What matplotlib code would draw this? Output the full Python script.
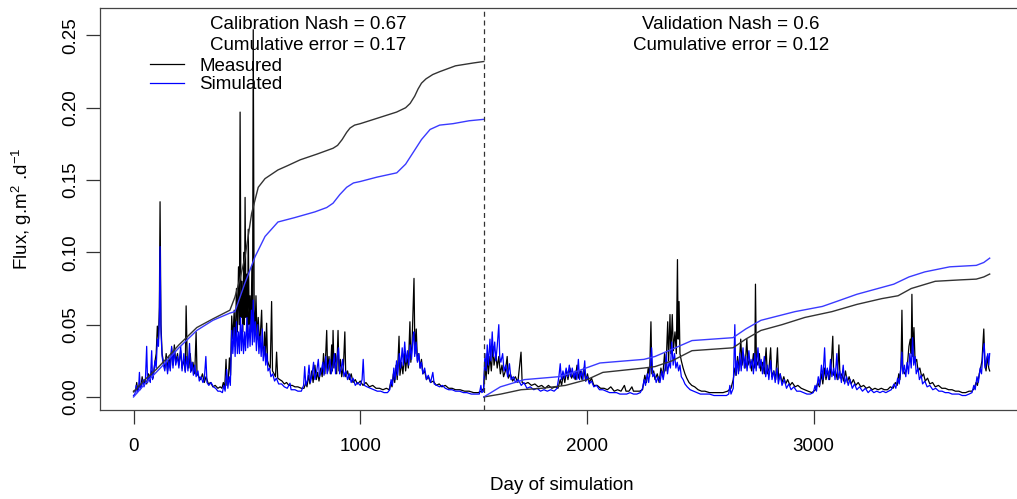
import matplotlib
matplotlib.use('Agg')
import matplotlib.pyplot as plt

# font close to the R default (Helvetica / Arial)
plt.rcParams['font.family'] = ['Liberation Sans', 'DejaVu Sans']
plt.rcParams['mathtext.default'] = 'regular'

# split between calibration and validation periods (day)
SPLIT_DAY = 1545

# daily measured flux, calibration + validation (day, value)
meas_days = [
    0, 10, 14, 18, 26, 32, 38, 44, 52, 58, 66, 72, 80, 86, 94, 100, 105, 110, 114, 117,
    121, 126, 132, 138, 144, 150, 156, 162, 168, 174, 180, 186, 194, 200, 208, 214, 222, 228, 232, 237,
    244, 250, 256, 262, 270, 276, 280, 288, 296, 304, 312, 320, 330, 340, 350, 360, 372, 382, 390, 396,
    402, 408, 412, 418, 423, 428, 433, 438, 444, 448, 454, 458, 463, 467, 470, 474, 478, 482, 486, 489,
    492, 496, 500, 503, 506, 510, 514, 518, 522, 525, 528, 532, 536, 540, 545, 550, 556, 561, 565, 569,
    574, 578, 582, 587, 591, 597, 603, 609, 613, 620, 626, 631, 636, 645, 655, 665, 675, 685, 700, 712,
    725, 740, 752, 760, 765, 772, 778, 786, 792, 800, 806, 812, 818, 826, 832, 838, 844, 852, 856, 862,
    868, 874, 877, 880, 884, 890, 896, 902, 906, 912, 918, 926, 932, 936, 944, 952, 960, 968, 978, 988,
    1000, 1012, 1025, 1040, 1055, 1070, 1085, 1100, 1115, 1128, 1134, 1140, 1146, 1152, 1158, 1163, 1171, 1175, 1182, 1188,
    1195, 1200, 1206, 1212, 1219, 1223, 1228, 1233, 1237, 1241, 1247, 1252, 1258, 1264, 1270, 1276, 1284, 1292, 1300, 1310,
    1322, 1335, 1348, 1360, 1375, 1390, 1405, 1420, 1440, 1460, 1480, 1500, 1520, 1535, 1544,
    1546, 1550, 1555, 1560, 1565, 1572, 1578, 1585, 1590, 1598, 1604, 1611, 1618, 1625, 1632, 1640, 1648, 1653, 1662, 1672,
    1684, 1695, 1709, 1714, 1725, 1740, 1755, 1770, 1785, 1800, 1815, 1830, 1845, 1860, 1872, 1882, 1888, 1896, 1902, 1910,
    1916, 1925, 1932, 1940, 1948, 1956, 1962, 1970, 1978, 1986, 1994, 2002, 2010, 2020, 2030, 2045, 2060, 2075, 2090, 2105,
    2120, 2135, 2150, 2165, 2172, 2185, 2198, 2205, 2218, 2232, 2245, 2255, 2262, 2270, 2276, 2282, 2286, 2294, 2300, 2310,
    2318, 2326, 2334, 2342, 2348, 2356, 2360, 2366, 2370, 2376, 2381, 2388, 2394, 2399, 2402, 2406, 2410, 2416, 2424, 2432,
    2440, 2450, 2462, 2475, 2490, 2505, 2520, 2540, 2560, 2580, 2600, 2620, 2635, 2645, 2652, 2658, 2664, 2670, 2678, 2684,
    2690, 2697, 2705, 2710, 2718, 2726, 2734, 2740, 2743, 2747, 2754, 2760, 2766, 2775, 2782, 2790, 2795, 2803, 2810, 2815,
    2824, 2832, 2840, 2845, 2852, 2860, 2868, 2876, 2885, 2895, 2905, 2918, 2930, 2945, 2960, 2975, 2992, 3008, 3018, 3025,
    3034, 3040, 3048, 3054, 3062, 3070, 3078, 3084, 3088, 3096, 3104, 3111, 3116, 3124, 3132, 3140, 3148, 3156, 3165, 3175,
    3185, 3196, 3208, 3220, 3232, 3245, 3258, 3270, 3284, 3298, 3312, 3325, 3338, 3350, 3360, 3368, 3375, 3380, 3385, 3389,
    3393, 3400, 3408, 3414, 3420, 3426, 3430, 3433, 3437, 3442, 3447, 3454, 3460, 3468, 3476, 3484, 3492, 3502, 3512, 3524,
    3536, 3550, 3565, 3580, 3595, 3610, 3625, 3640, 3655, 3670, 3685, 3698, 3708, 3716, 3722, 3730, 3736, 3742, 3750, 3755,
    3760, 3766, 3772, 3776,
]
meas_vals = [
    0.004, 0.005, 0.010, 0.005, 0.008, 0.006, 0.014, 0.008, 0.012, 0.009, 0.016, 0.011, 0.018, 0.013, 0.024, 0.030, 0.049, 0.040, 0.062, 0.135,
    0.050, 0.030, 0.024, 0.020, 0.030, 0.018, 0.028, 0.020, 0.034, 0.022, 0.036, 0.024, 0.030, 0.022, 0.032, 0.020, 0.026, 0.018, 0.063, 0.025,
    0.020, 0.030, 0.018, 0.024, 0.016, 0.045, 0.016, 0.014, 0.012, 0.016, 0.010, 0.014, 0.009, 0.010, 0.007, 0.008, 0.006, 0.007, 0.006, 0.010,
    0.006, 0.026, 0.008, 0.012, 0.027, 0.015, 0.056, 0.040, 0.060, 0.035, 0.075, 0.045, 0.090, 0.050, 0.197, 0.055, 0.080, 0.045, 0.100, 0.050,
    0.138, 0.055, 0.085, 0.045, 0.116, 0.050, 0.070, 0.045, 0.090, 0.050, 0.254, 0.060, 0.045, 0.070, 0.040, 0.055, 0.035, 0.048, 0.060, 0.035,
    0.030, 0.045, 0.028, 0.051, 0.025, 0.022, 0.020, 0.066, 0.018, 0.016, 0.014, 0.031, 0.013, 0.012, 0.011, 0.009, 0.010, 0.008, 0.008, 0.007,
    0.007, 0.006, 0.006, 0.010, 0.007, 0.015, 0.009, 0.018, 0.010, 0.022, 0.012, 0.017, 0.011, 0.020, 0.014, 0.030, 0.016, 0.046, 0.018, 0.028,
    0.016, 0.036, 0.018, 0.046, 0.020, 0.030, 0.016, 0.046, 0.018, 0.026, 0.014, 0.022, 0.045, 0.014, 0.018, 0.012, 0.016, 0.010, 0.012, 0.009,
    0.011, 0.008, 0.010, 0.007, 0.008, 0.006, 0.006, 0.005, 0.006, 0.005, 0.010, 0.007, 0.016, 0.010, 0.022, 0.012, 0.042, 0.015, 0.024, 0.016,
    0.030, 0.018, 0.028, 0.020, 0.052, 0.024, 0.035, 0.060, 0.082, 0.030, 0.047, 0.025, 0.030, 0.020, 0.026, 0.016, 0.018, 0.012, 0.014, 0.010,
    0.011, 0.008, 0.009, 0.007, 0.008, 0.006, 0.006, 0.005, 0.005, 0.004, 0.004, 0.003, 0.003, 0.004, 0.006,
    0.010, 0.022, 0.012, 0.030, 0.016, 0.028, 0.018, 0.035, 0.022, 0.030, 0.020, 0.028, 0.016, 0.022, 0.014, 0.018, 0.028, 0.013, 0.016, 0.011,
    0.014, 0.010, 0.031, 0.010, 0.009, 0.010, 0.008, 0.009, 0.007, 0.008, 0.006, 0.008, 0.006, 0.007, 0.006, 0.012, 0.008, 0.016, 0.010, 0.018,
    0.012, 0.020, 0.013, 0.016, 0.012, 0.022, 0.013, 0.018, 0.012, 0.020, 0.011, 0.016, 0.010, 0.013, 0.008, 0.008, 0.006, 0.006, 0.005, 0.007,
    0.004, 0.005, 0.004, 0.008, 0.004, 0.004, 0.007, 0.004, 0.004, 0.004, 0.005, 0.015, 0.010, 0.020, 0.014, 0.052, 0.016, 0.018, 0.012, 0.016,
    0.010, 0.020, 0.014, 0.030, 0.018, 0.052, 0.025, 0.057, 0.030, 0.057, 0.032, 0.045, 0.030, 0.095, 0.040, 0.066, 0.030, 0.025, 0.020, 0.016,
    0.013, 0.010, 0.008, 0.007, 0.005, 0.004, 0.004, 0.003, 0.003, 0.003, 0.003, 0.004, 0.006, 0.012, 0.020, 0.015, 0.028, 0.018, 0.040, 0.022,
    0.030, 0.020, 0.040, 0.022, 0.026, 0.018, 0.030, 0.020, 0.078, 0.025, 0.022, 0.030, 0.018, 0.024, 0.016, 0.034, 0.016, 0.020, 0.034, 0.014,
    0.018, 0.012, 0.034, 0.012, 0.016, 0.010, 0.014, 0.009, 0.012, 0.008, 0.010, 0.007, 0.008, 0.006, 0.005, 0.004, 0.003, 0.005, 0.010, 0.007,
    0.016, 0.009, 0.020, 0.012, 0.018, 0.012, 0.024, 0.042, 0.015, 0.018, 0.012, 0.036, 0.013, 0.016, 0.011, 0.018, 0.010, 0.014, 0.009, 0.012,
    0.008, 0.010, 0.007, 0.008, 0.006, 0.007, 0.005, 0.006, 0.005, 0.006, 0.005, 0.005, 0.007, 0.006, 0.010, 0.008, 0.016, 0.012, 0.022, 0.060,
    0.020, 0.016, 0.018, 0.024, 0.035, 0.040, 0.030, 0.071, 0.028, 0.048, 0.024, 0.026, 0.018, 0.020, 0.014, 0.016, 0.011, 0.013, 0.009, 0.010,
    0.007, 0.008, 0.006, 0.006, 0.005, 0.005, 0.004, 0.004, 0.003, 0.003, 0.004, 0.004, 0.006, 0.010, 0.008, 0.016, 0.020, 0.025, 0.047, 0.022,
    0.018, 0.028, 0.020, 0.018,
]

# daily simulated flux (day, value)
sim_days = [
    0, 6, 12, 16, 22, 26, 30, 36, 42, 46, 52, 58, 62, 68, 74, 80, 84, 90, 95, 100,
    105, 110, 114, 117, 121, 126, 132, 138, 144, 150, 156, 162, 168, 174, 180, 186, 194, 200, 208, 214,
    222, 228, 234, 240, 247, 252, 258, 264, 270, 276, 284, 290, 298, 306, 312, 319, 324, 332, 342, 352,
    362, 372, 382, 392, 398, 404, 411, 416, 422, 427, 433, 438, 444, 448, 454, 458, 463, 467, 472, 476,
    480, 485, 490, 494, 500, 504, 510, 514, 520, 524, 528, 532, 537, 542, 548, 553, 558, 563, 568, 572,
    578, 583, 588, 593, 600, 606, 614, 622, 630, 640, 653, 665, 678, 690, 695, 712, 725, 740, 750, 755,
    760, 768, 774, 780, 788, 794, 800, 808, 815, 820, 828, 835, 840, 848, 854, 860, 866, 872, 880, 886,
    891, 898, 904, 909, 916, 922, 928, 936, 944, 952, 960, 968, 978, 988, 1000, 1008, 1013, 1018, 1030, 1045,
    1060, 1075, 1090, 1105, 1120, 1130, 1136, 1142, 1148, 1154, 1160, 1165, 1172, 1178, 1185, 1190, 1196, 1202, 1208, 1214,
    1220, 1226, 1232, 1236, 1240, 1246, 1252, 1258, 1264, 1270, 1276, 1284, 1292, 1300, 1310, 1320, 1326, 1338, 1350, 1362,
    1375, 1390, 1405, 1420, 1438, 1455, 1470, 1490, 1510, 1525, 1532, 1536, 1544,
    1546, 1550, 1555, 1560, 1565, 1572, 1576, 1582, 1587, 1593, 1598, 1604, 1611, 1615, 1620, 1628, 1634, 1642, 1650, 1658,
    1665, 1675, 1685, 1697, 1710, 1722, 1735, 1750, 1765, 1780, 1795, 1810, 1825, 1840, 1855, 1868, 1876, 1882, 1887, 1894,
    1900, 1908, 1915, 1922, 1928, 1935, 1942, 1948, 1955, 1962, 1967, 1975, 1982, 1990, 1995, 2002, 2010, 2020, 2030, 2042,
    2055, 2070, 2085, 2100, 2115, 2130, 2145, 2160, 2175, 2190, 2205, 2220, 2235, 2245, 2252, 2258, 2266, 2272, 2279, 2285,
    2290, 2298, 2305, 2314, 2322, 2330, 2336, 2344, 2350, 2355, 2362, 2368, 2374, 2380, 2386, 2392, 2398, 2404, 2410, 2416,
    2424, 2432, 2442, 2455, 2470, 2485, 2500, 2520, 2540, 2560, 2580, 2600, 2615, 2625, 2630, 2635, 2645, 2652, 2656, 2662,
    2668, 2674, 2680, 2688, 2694, 2700, 2706, 2714, 2720, 2728, 2734, 2740, 2746, 2754, 2760, 2768, 2774, 2782, 2788, 2796,
    2802, 2810, 2816, 2824, 2830, 2838, 2844, 2852, 2860, 2870, 2880, 2890, 2900, 2912, 2925, 2940, 2955, 2970, 2985, 2998,
    3006, 3012, 3020, 3026, 3034, 3040, 3048, 3053, 3060, 3066, 3074, 3080, 3088, 3094, 3102, 3107, 3115, 3122, 3130, 3136,
    3145, 3152, 3160, 3170, 3180, 3190, 3202, 3215, 3228, 3240, 3252, 3265, 3278, 3292, 3305, 3318, 3330, 3342, 3354, 3362,
    3370, 3377, 3384, 3389, 3393, 3400, 3406, 3412, 3418, 3424, 3430, 3436, 3441, 3447, 3452, 3460, 3466, 3474, 3480, 3490,
    3500, 3512, 3525, 3538, 3552, 3566, 3580, 3595, 3610, 3625, 3640, 3655, 3670, 3685, 3698, 3706, 3712, 3720, 3726, 3734,
    3740, 3746, 3752, 3756, 3762, 3768, 3772, 3776,
]
sim_vals = [
    0.001, 0.002, 0.008, 0.003, 0.005, 0.017, 0.005, 0.008, 0.012, 0.007, 0.010, 0.035, 0.010, 0.014, 0.010, 0.032, 0.012, 0.018, 0.025, 0.020,
    0.040, 0.035, 0.055, 0.104, 0.045, 0.028, 0.022, 0.018, 0.027, 0.016, 0.025, 0.018, 0.035, 0.020, 0.033, 0.022, 0.028, 0.020, 0.035, 0.018,
    0.030, 0.017, 0.028, 0.018, 0.037, 0.017, 0.024, 0.015, 0.022, 0.014, 0.018, 0.011, 0.014, 0.010, 0.012, 0.028, 0.010, 0.008, 0.010, 0.007,
    0.006, 0.004, 0.004, 0.003, 0.008, 0.004, 0.019, 0.006, 0.014, 0.008, 0.046, 0.030, 0.048, 0.028, 0.052, 0.030, 0.045, 0.030, 0.055, 0.032,
    0.050, 0.030, 0.045, 0.032, 0.055, 0.034, 0.050, 0.035, 0.060, 0.036, 0.067, 0.038, 0.052, 0.032, 0.050, 0.030, 0.042, 0.028, 0.047, 0.025,
    0.035, 0.022, 0.030, 0.018, 0.020, 0.014, 0.016, 0.011, 0.013, 0.009, 0.009, 0.007, 0.006, 0.0095, 0.005, 0.005, 0.004, 0.004, 0.008, 0.021,
    0.008, 0.012, 0.022, 0.010, 0.016, 0.024, 0.012, 0.018, 0.026, 0.014, 0.018, 0.024, 0.015, 0.028, 0.016, 0.020, 0.026, 0.016, 0.022, 0.030,
    0.016, 0.028, 0.034, 0.016, 0.020, 0.026, 0.014, 0.018, 0.012, 0.016, 0.010, 0.013, 0.008, 0.010, 0.008, 0.012, 0.026, 0.008, 0.007, 0.006,
    0.005, 0.004, 0.004, 0.003, 0.003, 0.005, 0.012, 0.008, 0.020, 0.012, 0.025, 0.015, 0.030, 0.020, 0.034, 0.022, 0.038, 0.024, 0.032, 0.022,
    0.036, 0.026, 0.040, 0.045, 0.028, 0.038, 0.024, 0.030, 0.020, 0.024, 0.016, 0.020, 0.012, 0.015, 0.010, 0.017, 0.009, 0.008, 0.007, 0.008,
    0.006, 0.005, 0.005, 0.004, 0.004, 0.003, 0.003, 0.002, 0.002, 0.002, 0.008, 0.003, 0.004,
    0.015, 0.030, 0.018, 0.036, 0.022, 0.040, 0.025, 0.045, 0.028, 0.038, 0.025, 0.035, 0.050, 0.028, 0.024, 0.030, 0.018, 0.022, 0.014, 0.023,
    0.012, 0.014, 0.010, 0.012, 0.008, 0.010, 0.006, 0.007, 0.005, 0.006, 0.004, 0.005, 0.004, 0.005, 0.004, 0.006, 0.014, 0.023, 0.012, 0.018,
    0.013, 0.020, 0.014, 0.022, 0.014, 0.020, 0.013, 0.018, 0.012, 0.026, 0.012, 0.018, 0.012, 0.025, 0.011, 0.014, 0.009, 0.011, 0.007, 0.008,
    0.005, 0.005, 0.004, 0.003, 0.003, 0.003, 0.002, 0.002, 0.002, 0.003, 0.002, 0.002, 0.003, 0.006, 0.012, 0.008, 0.016, 0.010, 0.020, 0.034,
    0.014, 0.016, 0.010, 0.014, 0.010, 0.018, 0.012, 0.020, 0.030, 0.016, 0.024, 0.020, 0.038, 0.022, 0.030, 0.020, 0.024, 0.018, 0.022, 0.014,
    0.012, 0.009, 0.007, 0.005, 0.004, 0.003, 0.002, 0.002, 0.002, 0.001, 0.001, 0.001, 0.001, 0.002, 0.008, 0.002, 0.006, 0.050, 0.015, 0.025,
    0.016, 0.030, 0.018, 0.034, 0.020, 0.028, 0.018, 0.032, 0.020, 0.026, 0.016, 0.030, 0.018, 0.034, 0.020, 0.026, 0.016, 0.028, 0.014, 0.022,
    0.012, 0.025, 0.012, 0.018, 0.010, 0.020, 0.009, 0.016, 0.008, 0.012, 0.006, 0.009, 0.005, 0.007, 0.004, 0.004, 0.003, 0.002, 0.002, 0.003,
    0.008, 0.004, 0.014, 0.008, 0.022, 0.012, 0.034, 0.014, 0.020, 0.012, 0.026, 0.014, 0.020, 0.012, 0.030, 0.012, 0.018, 0.010, 0.022, 0.009,
    0.014, 0.008, 0.012, 0.006, 0.009, 0.005, 0.007, 0.004, 0.006, 0.003, 0.005, 0.003, 0.004, 0.003, 0.004, 0.003, 0.004, 0.005, 0.009, 0.006,
    0.013, 0.009, 0.020, 0.031, 0.016, 0.022, 0.014, 0.024, 0.016, 0.030, 0.020, 0.041, 0.022, 0.028, 0.016, 0.020, 0.012, 0.015, 0.009, 0.011,
    0.007, 0.008, 0.005, 0.006, 0.004, 0.004, 0.003, 0.003, 0.002, 0.002, 0.002, 0.001, 0.001, 0.002, 0.003, 0.008, 0.005, 0.014, 0.010, 0.020,
    0.016, 0.030, 0.037, 0.020, 0.026, 0.030, 0.022, 0.030,
]

# cumulative curves (scaled), calibration period
cal_cum_days_meas = [0, 50, 100, 148, 200, 279, 350, 425, 447, 470, 492, 521, 550, 580, 637, 680, 735, 810, 880,
                     900, 920, 940, 955, 975, 1000, 1060, 1160, 1200, 1220, 1240, 1255, 1270, 1290, 1320, 1351,
                     1420, 1500, 1545]
cal_cum_meas = [0.0035, 0.012, 0.019, 0.027, 0.036, 0.048, 0.054, 0.060, 0.069, 0.082, 0.097, 0.127, 0.145, 0.151,
                0.157, 0.160, 0.164, 0.168, 0.172, 0.174, 0.178, 0.183, 0.186, 0.188, 0.189, 0.192, 0.197, 0.200,
                0.203, 0.208, 0.213, 0.217, 0.220, 0.223, 0.225, 0.229, 0.231, 0.232]
cal_cum_days_sim = [0, 50, 100, 148, 200, 279, 350, 425, 447, 492, 536, 580, 637, 710, 800, 852, 880, 910, 940,
                    970, 1000, 1073, 1161, 1200, 1233, 1270, 1308, 1350, 1409, 1480, 1545]
cal_cum_sim = [0.0, 0.009, 0.017, 0.025, 0.034, 0.046, 0.053, 0.058, 0.059, 0.079, 0.097, 0.111, 0.121, 0.124,
               0.128, 0.131, 0.134, 0.140, 0.145, 0.148, 0.149, 0.152, 0.155, 0.161, 0.169, 0.178, 0.185, 0.188,
               0.189, 0.191, 0.192]

# cumulative curves (scaled), validation period
val_cum_days_meas = [1545, 1620, 1709, 1800, 1905, 2000, 2070, 2251, 2300, 2375, 2463, 2644, 2700, 2767, 2860,
                     2961, 3080, 3190, 3300, 3372, 3430, 3536, 3650, 3717, 3750, 3776]
val_cum_meas = [0.0, 0.002, 0.005, 0.006, 0.008, 0.012, 0.017, 0.020, 0.021, 0.025, 0.032, 0.034, 0.040, 0.046,
                0.050, 0.055, 0.059, 0.064, 0.068, 0.070, 0.075, 0.080, 0.081, 0.0815, 0.083, 0.085]
val_cum_days_sim = [1545, 1618, 1724, 1875, 1960, 2057, 2251, 2300, 2375, 2463, 2644, 2700, 2767, 2917, 3038,
                    3100, 3190, 3353, 3420, 3490, 3600, 3717, 3750, 3776]
val_cum_sim = [0.0, 0.007, 0.012, 0.014, 0.018, 0.0235, 0.026, 0.028, 0.033, 0.039, 0.041, 0.047, 0.053, 0.059,
               0.0626, 0.066, 0.071, 0.078, 0.083, 0.0865, 0.090, 0.091, 0.093, 0.096]

# statistics shown at the top of the plot
calibration_text = 'Calibration Nash = 0.67\nCumulative error = 0.17'
validation_text = 'Validation Nash = 0.6\nCumulative error = 0.12'

fig = plt.figure(figsize=(10.17, 4.99), dpi=100)
# axes box runs past the right edge, as in the reference
ax = fig.add_axes([0.0983, 0.1784, 0.9085, 0.8056])

# daily series
ax.plot(meas_days, meas_vals, color='black', lw=0.9, label='Measured')
ax.plot(sim_days, sim_vals, color='blue', lw=0.9, label='Simulated')

# cumulative series
ax.plot(cal_cum_days_meas, cal_cum_meas, color='#333333', lw=1.0)
ax.plot(cal_cum_days_sim, cal_cum_sim, color='#3a3aff', lw=1.0)
ax.plot(val_cum_days_meas, val_cum_meas, color='#333333', lw=1.0)
ax.plot(val_cum_days_sim, val_cum_sim, color='#3a3aff', lw=1.0)

# calibration / validation split
ax.axvline(SPLIT_DAY, color='#333333', lw=0.9, linestyle=(0, (4, 3)))

ax.set_xlim(-148, 3927)
ax.set_ylim(-0.009, 0.269)
ax.set_xticks([0, 1000, 2000, 3000])
ax.set_yticks([0.00, 0.05, 0.10, 0.15, 0.20, 0.25])
ax.set_yticklabels(['0.00', '0.05', '0.10', '0.15', '0.20', '0.25'])

ax.tick_params(axis='x', length=10, width=0.9, pad=10, labelsize=13.5, color='#333333')
ax.tick_params(axis='y', length=10, width=0.9, pad=5, labelsize=13.5, color='#333333')
for lab in ax.get_yticklabels():
    lab.set_rotation(90)
    lab.set_verticalalignment('center')

for side in ax.spines.values():
    side.set_color('#444444')
    side.set_linewidth(0.9)

ax.set_xlabel('Day of simulation', fontsize=13.5, labelpad=16)
ax.set_ylabel('Flux, g.m$^{2}$ .d$^{-1}$', fontsize=13.5, labelpad=20)

ax.legend(loc='upper left', bbox_to_anchor=(0.054, 0.877), frameon=False, fontsize=13.5,
          borderaxespad=0, borderpad=0, handlelength=1.8, handletextpad=0.85, labelspacing=0.08)

fig.text(308 / 1017, 1 - 35 / 499, calibration_text, ha='center', va='center', fontsize=13.5, linespacing=1.3)
fig.text(731 / 1017, 1 - 35 / 499, validation_text, ha='center', va='center', fontsize=13.5, linespacing=1.3)

fig.savefig('out.png', dpi=100)
